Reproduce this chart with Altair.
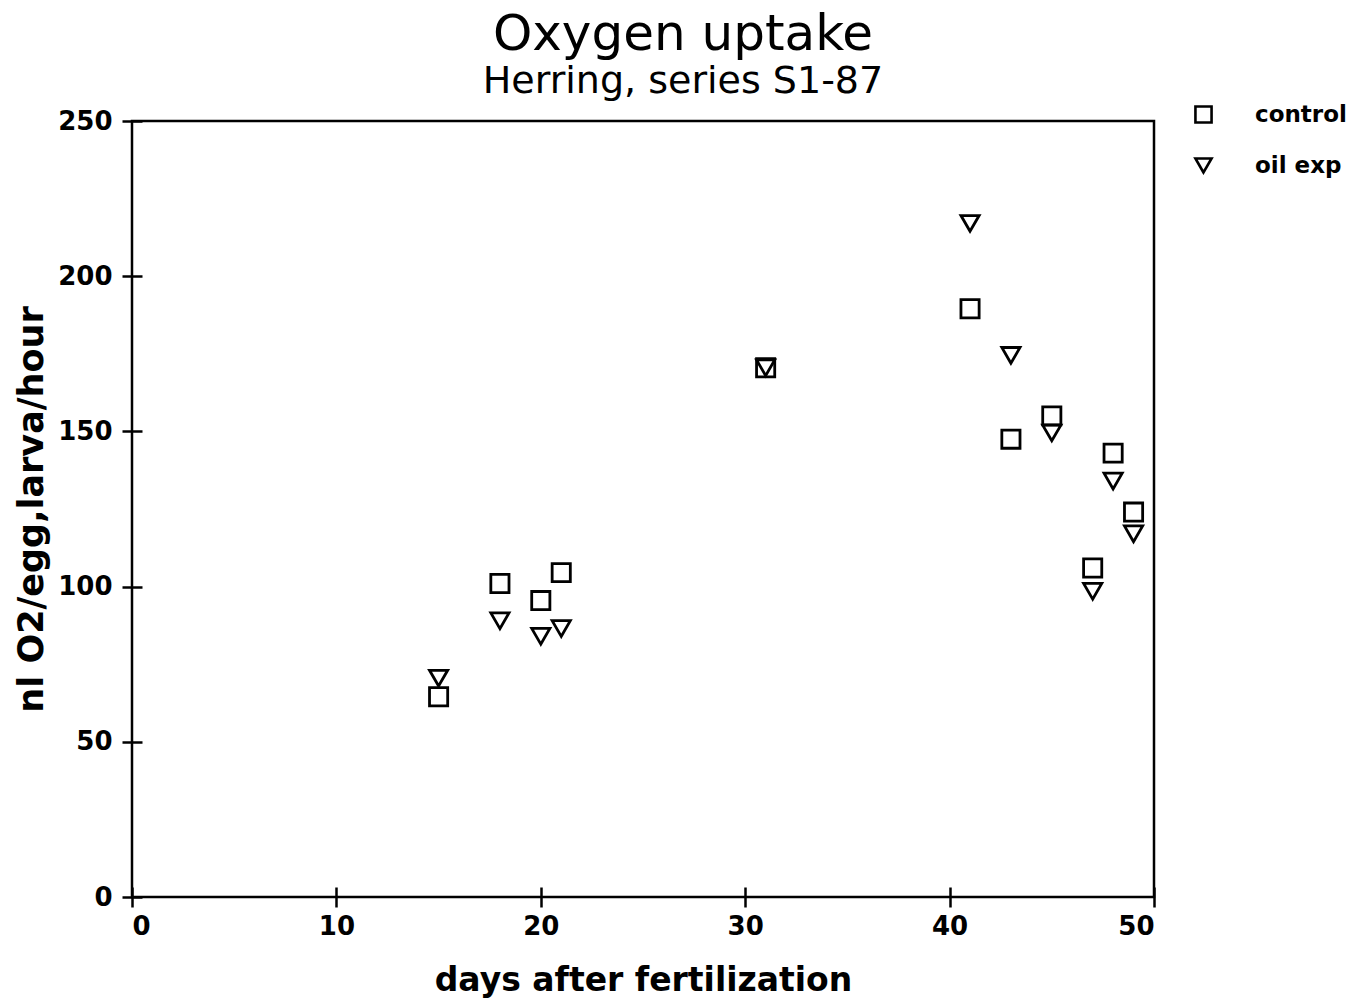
import altair as alt
import pandas as pd

days = [15, 18, 20, 21, 31, 41, 43, 45, 47, 48, 49]
control = [64.5, 101, 95.5, 104.5, 170.5, 189.5, 147.5, 155, 106, 143, 124]
oil_exp = [70.5, 89, 84, 86.5, 170.5, 217, 174.5, 149.5, 98.5, 134, 117]
series_names = ["control", "oil exp"]

rows = []
for d, c, o in zip(days, control, oil_exp):
    rows.append({"day": d, "value": c, "series": series_names[0]})
    rows.append({"day": d, "value": o, "series": series_names[1]})
df = pd.DataFrame(rows)

FONT = "DejaVu Sans"

chart = alt.Chart(df).mark_point(filled=False, strokeWidth=2.8, opacity=1, color="black", size=330).encode(
    x=alt.X("day:Q", scale=alt.Scale(domain=[0, 50], nice=False, zero=True),
            axis=alt.Axis(values=[0, 10, 20, 30, 40, 50], title="days after fertilization",
                          offset=-10, tickSize=20, domain=False, grid=False,
                          labelPadding=6, titlePadding=25)),
    y=alt.Y("value:Q", scale=alt.Scale(domain=[0, 250], nice=False),
            axis=alt.Axis(values=[0, 50, 100, 150, 200, 250], title="nl O2/egg,larva/hour",
                          offset=-10, tickSize=20, domain=False, grid=False,
                          labelPadding=10, titlePadding=8, titleFontSize=35)),
    shape=alt.Shape("series:N", scale=alt.Scale(domain=series_names, range=["square", "triangle-down"]),
                    legend=alt.Legend(title=None, orient="none", legendX=1060, legendY=-18,
                                      padding=0, symbolSize=260, symbolStrokeWidth=2.6,
                                      symbolStrokeColor="black", symbolFillColor="white",
                                      labelFontSize=23, labelFont=FONT,
                                      labelFontWeight="bold", labelColor="black",
                                      labelOffset=40, rowPadding=25)),
).properties(
    width=1022,
    height=776,
    title=alt.TitleParams(text="Oxygen uptake", subtitle="Herring, series S1-87",
                          fontSize=50, subtitleFontSize=38, font=FONT, subtitleFont=FONT,
                          fontWeight="normal", subtitleFontWeight="normal",
                          anchor="middle", dx=40, offset=2,
                          color="black", subtitleColor="black", subtitlePadding=3),
    autosize=alt.AutoSizeParams(type="none"),
    padding={"left": 124, "top": 113, "right": 205, "bottom": 104},
).configure_view(
    stroke="black", strokeWidth=2.5
).configure_axis(
    labelFont=FONT, titleFont=FONT, labelFontSize=26, titleFontSize=33,
    labelFontWeight="bold", titleFontWeight="bold", labelColor="black", titleColor="black",
    tickColor="black", tickWidth=2.5
)

chart.save("out.html", embed_options={"renderer": "svg", "actions": False})
